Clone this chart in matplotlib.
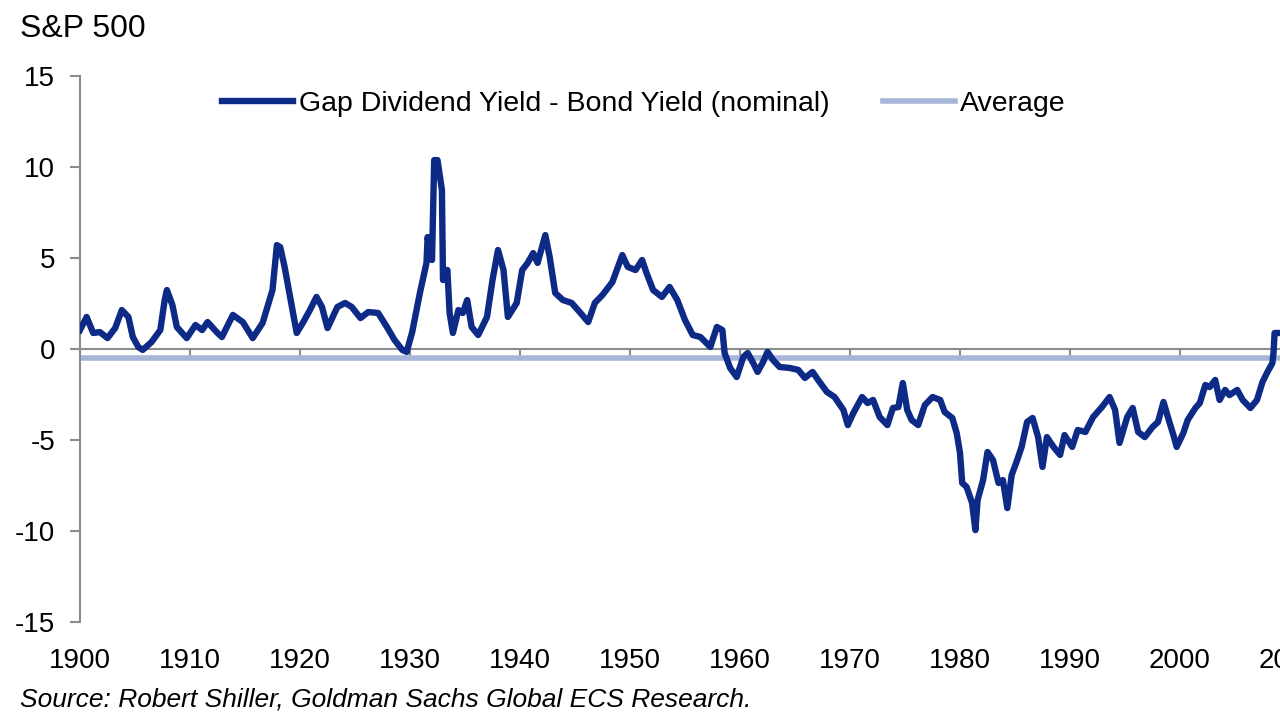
import matplotlib
matplotlib.use("Agg")
import matplotlib.pyplot as plt

plt.rcParams['font.family'] = ['Liberation Sans', 'DejaVu Sans']

# gap dividend yield - bond yield
years = [1900.0, 1900.6, 1901.2, 1901.8, 1902.5, 1903.2, 1903.8, 1904.4, 1904.8, 1905.3,
         1905.7, 1906.5, 1907.3, 1907.7, 1907.9, 1908.4, 1908.8, 1909.7, 1910.5, 1911.1,
         1911.6, 1912.5, 1912.9, 1913.9, 1914.8, 1915.7, 1916.6, 1917.5, 1917.9, 1918.2,
         1918.6, 1919.1, 1919.7, 1920.3, 1920.9, 1921.5, 1922.0, 1922.5, 1923.4, 1924.1,
         1924.7, 1925.5, 1926.2, 1927.1, 1927.9, 1928.6, 1929.3, 1929.7, 1930.2, 1930.9,
         1931.5, 1931.6, 1932.0, 1932.2, 1932.5, 1932.9, 1933.0, 1933.4, 1933.6, 1933.9,
         1934.4, 1934.8, 1935.2, 1935.6, 1936.2, 1937.0, 1937.5, 1938.0, 1938.5, 1938.9,
         1939.7, 1940.2, 1940.7, 1941.2, 1941.6, 1942.3, 1942.7, 1943.2, 1943.9, 1944.7,
         1945.5, 1946.2, 1946.8, 1947.5, 1948.4, 1949.3, 1949.8, 1950.5, 1951.1, 1951.5,
         1952.1, 1952.9, 1953.6, 1954.3, 1955.0, 1955.7, 1956.4, 1957.3, 1957.9, 1958.4,
         1958.6, 1959.1, 1959.7, 1960.3, 1960.7, 1961.2, 1961.6, 1962.1, 1962.5, 1963.0,
         1963.6, 1964.5, 1965.3, 1965.9, 1966.6, 1967.1, 1967.9, 1968.6, 1969.4, 1969.8,
         1970.3, 1971.1, 1971.6, 1972.1, 1972.7, 1973.4, 1973.9, 1974.4, 1974.8, 1975.2,
         1975.6, 1976.2, 1976.8, 1977.5, 1978.2, 1978.6, 1979.3, 1979.7, 1980.0, 1980.2,
         1980.6, 1981.1, 1981.4, 1981.6, 1982.1, 1982.5, 1983.0, 1983.5, 1983.9, 1984.3,
         1984.7, 1985.2, 1985.6, 1986.1, 1986.6, 1987.1, 1987.5, 1987.9, 1988.5, 1989.1,
         1989.5, 1990.2, 1990.7, 1991.4, 1992.1, 1992.9, 1993.6, 1994.1, 1994.5, 1995.2,
         1995.7, 1996.2, 1996.8, 1997.5, 1998.0, 1998.5, 1998.9, 1999.4, 1999.7, 2000.3,
         2000.7, 2001.4, 2001.8, 2002.3, 2002.7, 2003.2, 2003.6, 2004.1, 2004.5, 2005.2,
         2005.7, 2006.4, 2007.0, 2007.5, 2007.9, 2008.4, 2008.5, 2008.6, 2009.1]
gap = [1.04, 1.76, 0.88, 0.93, 0.60, 1.15, 2.14, 1.76, 0.66, 0.11,
       -0.05, 0.38, 1.04, 2.69, 3.24, 2.42, 1.21, 0.60, 1.32, 1.04,
       1.48, 0.88, 0.66, 1.87, 1.48, 0.60, 1.43, 3.24, 5.71, 5.60,
       4.51, 2.86, 0.88, 1.48, 2.14, 2.86, 2.31, 1.15, 2.31, 2.53,
       2.31, 1.70, 2.03, 1.98, 1.21, 0.49, -0.05, -0.16, 0.93, 3.08,
       4.73, 6.15, 4.89, 10.38, 10.38, 8.74, 3.79, 4.34, 1.98, 0.88,
       2.14, 1.98, 2.69, 1.21, 0.77, 1.76, 3.79, 5.44, 4.34, 1.76,
       2.53, 4.34, 4.73, 5.27, 4.73, 6.26, 5.05, 3.08, 2.69, 2.53,
       1.98, 1.48, 2.53, 2.97, 3.68, 5.16, 4.51, 4.34, 4.89, 4.18,
       3.24, 2.86, 3.41, 2.69, 1.59, 0.77, 0.66, 0.11, 1.21, 1.04,
       -0.22, -1.04, -1.54, -0.44, -0.22, -0.77, -1.26, -0.71, -0.16, -0.60,
       -0.99, -1.04, -1.15, -1.59, -1.26, -1.70, -2.36, -2.64, -3.35, -4.18,
       -3.52, -2.64, -2.97, -2.80, -3.74, -4.18, -3.24, -3.19, -1.87, -3.35,
       -3.90, -4.18, -3.08, -2.64, -2.80, -3.46, -3.79, -4.62, -5.71, -7.36,
       -7.58, -8.46, -9.95, -8.30, -7.20, -5.66, -6.10, -7.36, -7.20, -8.74,
       -6.92, -6.10, -5.38, -4.01, -3.79, -4.84, -6.48, -4.84, -5.38, -5.82,
       -4.73, -5.38, -4.45, -4.56, -3.74, -3.19, -2.64, -3.35, -5.16, -3.74,
       -3.24, -4.56, -4.84, -4.29, -4.01, -2.91, -3.74, -4.73, -5.38, -4.62,
       -3.90, -3.24, -2.97, -1.98, -2.09, -1.70, -2.80, -2.25, -2.53, -2.25,
       -2.80, -3.24, -2.80, -1.81, -1.32, -0.77, -0.22, 0.88, 0.88]
average = -0.5

decades = list(range(1900, 2020, 10))
yticks = [15, 10, 5, 0, -5, -10, -15]

navy = '#0d2b86'
light = '#a7b5d9'
grey = '#8c8c8c'

fig = plt.figure(figsize=(12.8, 7.2), dpi=100)
ax = fig.add_axes([80/1280, 98/720, 1210/1280, 546/720])

ax.axhline(average, color=light, lw=4.0, zorder=2, label='Average')
ax.plot(years, gap, color=navy, lw=4.6, zorder=3, solid_joinstyle='round',
        label='Gap Dividend Yield - Bond Yield (nominal)')

ax.set_xlim(1900, 2010)
ax.set_ylim(-15, 15)
ax.set_yticks(yticks)
ax.set_yticklabels([str(v) for v in yticks])

for s in ['top', 'right']:
    ax.spines[s].set_visible(False)
ax.spines['left'].set_color(grey)
ax.spines['left'].set_linewidth(1.5)
ax.spines['bottom'].set_position(('data', 0))
ax.spines['bottom'].set_color(grey)
ax.spines['bottom'].set_linewidth(1.5)

ax.set_xticks(decades)
ax.tick_params(axis='x', direction='out', length=6, width=1.5, color=grey,
               labelbottom=False)
ax.tick_params(axis='y', direction='out', length=7, width=1.5, color=grey,
               labelsize=20, pad=11)

sec = ax.secondary_xaxis('bottom')
sec.set_xticks(decades)
sec.set_xticklabels([str(d) for d in decades])
sec.tick_params(length=0, labelsize=20, pad=19)
sec.spines['bottom'].set_visible(False)

h, l = ax.get_legend_handles_labels()
ax.legend(h[::-1], l[::-1], loc='center', bbox_to_anchor=(0.503, 1 - 104/720),
          bbox_transform=fig.transFigure, ncol=2, frameon=False, fontsize=20.5,
          handlelength=2.5, handletextpad=0.2, columnspacing=1.9)

fig.text(20/1280, 1 - 29/720, 'S&P 500', fontsize=23, ha='left', va='center')
fig.text(20/1280, 1 - 700/720,
         'Source: Robert Shiller, Goldman Sachs Global ECS Research.',
         fontsize=19, style='italic', ha='left', va='center')

fig.savefig('out.png', dpi=100)
